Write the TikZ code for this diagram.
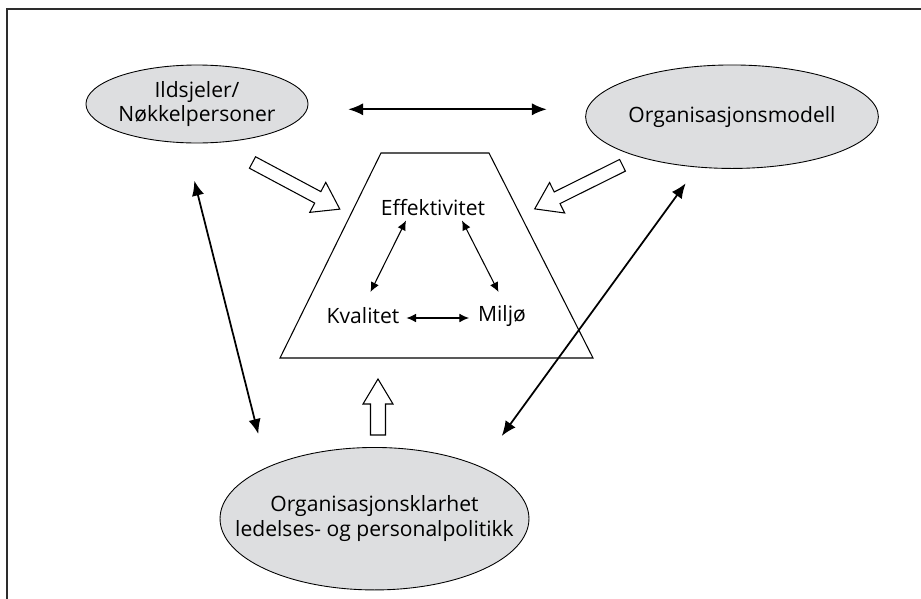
\documentclass[tikz,border=0pt]{standalone}
\usepackage{fontspec}
\setmainfont{Open Sans}
\usetikzlibrary{positioning,shapes,arrows.meta,calc}
\definecolor{ovalgray}{RGB}{221,222,224}
\definecolor{framegray}{RGB}{45,45,45}

\tikzset{
  oval/.style={ellipse, draw=black, line width=0.5pt, fill=ovalgray, align=center, inner sep=0pt, font=\fontsize{12}{14}\selectfont},
  goal/.style={font=\fontsize{12}{14}\selectfont, inner sep=1pt},
  bigarrow/.style={{Latex[length=8.5pt,width=7pt]}-{Latex[length=8.5pt,width=7pt]}, line width=1pt},
  smallarrow/.style={{Latex[length=5.5pt,width=5pt]}-{Latex[length=5.5pt,width=5pt]}, line width=0.6pt},
  hollow/.style={draw=black, fill=white, line width=0.6pt, line join=miter},
}

\begin{document}
\begin{tikzpicture}[x=0.02cm,y=-0.02cm]
\useasboundingbox (0,0) rectangle (921,599);

% Frame
\draw[framegray, line width=1.5pt] (7,599) -- (7,9) -- (921,9);

% Ovals
\node[oval, minimum width=4.18cm, minimum height=1.56cm] (ild) at (197,104) {Ildsjeler/\\Nøkkelpersoner};
\node[oval, minimum width=5.59cm, minimum height=2.07cm] (org) at (732,116.7) {Organisasjonsmodell};
\node[oval, inner xsep=-20pt, minimum width=6.18cm, minimum height=2.85cm] (klar) at (374.5,518.7) {Organisasjonsklarhet\\ledelses- og personalpolitikk};

% Trapezoid
\draw[line width=0.6pt] (280,358) -- (593,358) -- (489,153) -- (381,153) -- cycle;
\node[goal] (eff) at (433,208) {Effektivitet};
\node[goal] (kval) at (363,316) {Kvalitet};
\node[goal] (milj) at (502,316) {Miljø};

\draw[smallarrow] ([shift={(-27,12.5)}]eff.center) -- ([shift={(7.5,-24)}]kval.center);
\draw[smallarrow] ([shift={(29,12.5)}]eff.center) -- ([shift={(-3.5,-24)}]milj.center);
\draw[smallarrow] ([shift={(43.5,2)}]kval.center) -- ([shift={(-33,2)}]milj.center);

% Links between ovals
\draw[bigarrow] ([shift={(151.3,5.3)}]ild.center) -- ([shift={(-185.3,-7.4)}]org.center);
\draw[bigarrow] ([shift={(-2.7,76.7)}]ild.center) -- ([shift={(-116.2,-84.7)}]klar.center);
\draw[bigarrow] ([shift={(-46.3,66.6)}]org.center) -- ([shift={(127.2,-82.7)}]klar.center);

% Hollow arrows
\begin{scope}[shift={(252.5,162.5)}, rotate=-28.1]
\draw[hollow] (0,-6.5) -- (74,-6.5) -- (74,-17) -- (99,0) -- (74,17) -- (74,6.5) -- (0,6.5) -- cycle;
\end{scope}
\begin{scope}[shift={(622.5,165.3)}, rotate=206.4]
\draw[hollow] (0,-6.5) -- (73,-6.5) -- (73,-17) -- (98,0) -- (73,17) -- (73,6.5) -- (0,6.5) -- cycle;
\end{scope}
\begin{scope}[shift={(378,435)}, rotate=90]
\draw[hollow] (0,-7.5) -- (31,-7.5) -- (31,-15) -- (56,0) -- (31,15) -- (31,7.5) -- (0,7.5) -- cycle;
\end{scope}

\end{tikzpicture}
\end{document}
